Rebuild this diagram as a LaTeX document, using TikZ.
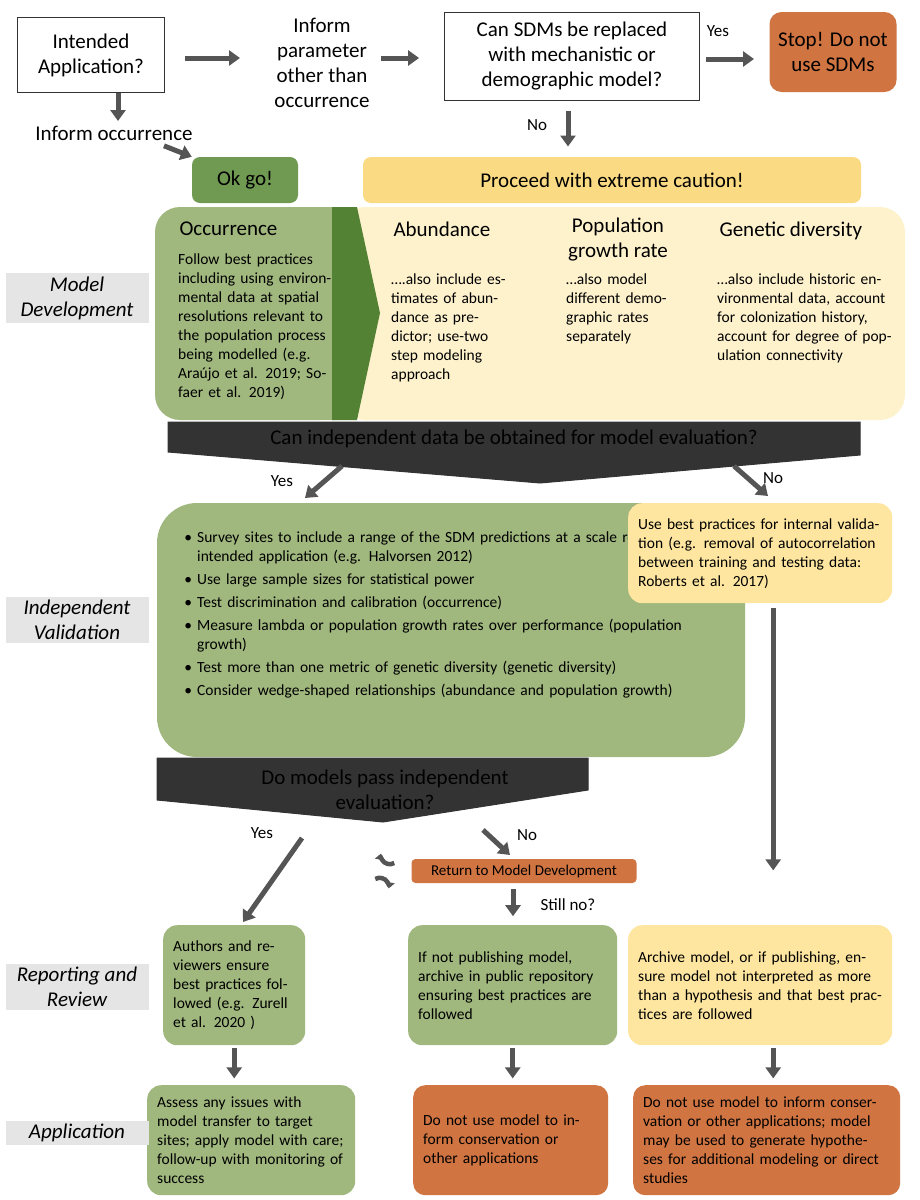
\documentclass[tikz,border=0pt]{standalone}
\usepackage{fontspec}
\setmainfont{Carlito}
\usetikzlibrary{arrows.meta,positioning}
\definecolor{lgreen}{RGB}{160,183,126}
\definecolor{dgreen}{RGB}{84,130,53}
\definecolor{okgreen}{RGB}{112,154,82}
\definecolor{sorange}{RGB}{208,116,66}
\definecolor{pyellow}{RGB}{250,218,131}
\definecolor{byellow}{RGB}{254,242,205}
\definecolor{ryellow}{RGB}{254,230,160}
\definecolor{arrgray}{RGB}{85,85,85}
\tikzset{
  big/.style={font=\fontsize{21}{25}\selectfont},
  body/.style={font=\fontsize{15.5}{19}\selectfont},
  qbox/.style={draw=black!80,fill=white,line width=1pt,big,align=center},
  gbox/.style={fill=lgreen,rounded corners=22pt,body,align=left,inner sep=10pt},
  ybox/.style={fill=ryellow,rounded corners=14pt,body,align=left,inner sep=10pt},
  obox/.style={fill=sorange,rounded corners=12pt,body,align=left,inner sep=10pt},
  side/.style={fill=black!10,font=\itshape\fontsize{21}{25}\selectfont,align=center,minimum width=143pt},
  fat/.style={arrgray,line width=5pt,-{Triangle[width=15pt,length=11pt]}},
}
\begin{document}
\begin{tikzpicture}[x=1pt,y=-1pt]
\useasboundingbox (0,0) rectangle (920,1200);

% top row
\node[qbox,minimum width=147pt,minimum height=75pt] (app) at (91,55) {Intended\\Application?};
\node[big,align=center] (param) at (322,63) {Inform\\parameter\\other than\\occurrence};
\node[qbox,minimum width=255pt,minimum height=88pt] (mech) at (572,56) {Can SDMs be replaced\\with mechanistic or\\demographic model?};
\node[fill=sorange,rounded corners=12pt,big,align=center,minimum width=127pt,minimum height=80pt] (stop) at (833,52) {Stop! Do not\\use SDMs};
\draw[fat] (app.east)++(20,3) -- ++(55,0);
\draw[fat] (param.east)++(8,-5) -- ++(38,0);
\draw[fat] (mech.east)++(6,3) -- ++(48,0);
\node[font=\fontsize{17}{20}\selectfont] at (718,31) {Yes};
\draw[fat] (app.south)++(27,0) -- ++(0,28);
\node[big] (occ) at (114,133) {Inform occurrence};
\draw[fat] (mech.south)++(-4,10) -- ++(0,36);
\node[font=\fontsize{17}{20}\selectfont] at (537,125) {No};

% development row
\node[fill=okgreen,rounded corners=8pt,big,minimum width=106pt,minimum height=46pt] (ok) at (245,180) {Ok go!};
\draw[fat] (occ.south)++(50,2) -- (ok.west|-ok.north);
\node[fill=pyellow,rounded corners=8pt,big,minimum width=498pt,minimum height=46pt] (caution) at (612,180) {Proceed with extreme caution!};
\fill[byellow,rounded corners=25pt] (340,207) rectangle (905,420);
\fill[lgreen,rounded corners=25pt] (155,207) rectangle (345,420);
\fill[lgreen] (300,207) rectangle (340,420);
\fill[dgreen] (332,207) -- (357,207) -- (380,313) -- (357,420) -- (332,420) -- cycle;
\node[big,anchor=north west] (occhead) at (176,218) {Occurrence};
\node[body,anchor=north west,text width=160pt,align=left,inner sep=0pt] (occbody) at (178,254) {Follow best practices including using environmental data at spatial resolutions relevant to the population process being modelled (e.g. Araújo et al. 2019; Sofaer et al. 2019)};
\node[big,anchor=north west] (abh) at (390,218) {Abundance};
\node[body,anchor=north west,text width=115pt,inner sep=0pt] (abb) at (391,274) {….also include estimates of abundance as predictor; use-two step modeling approach};
\node[big,align=center] (poph) at (618,240) {Population\\growth rate};
\node[body,anchor=north west,text width=110pt,inner sep=0pt] (popb) at (566,274) {…also model different demographic rates separately};
\node[big,anchor=north west] (genh) at (716,218) {Genetic diversity};
\node[body,anchor=north west,text width=180pt,inner sep=0pt] (genb) at (717,274) {…also include historic environmental data, account for colonization history, account for degree of population connectivity};
\node[side] (sd) at (77,298) {Model\\Development};

% first evaluation
\coordinate (e1a) at (168,422); \coordinate (e1b) at (860,422);
\coordinate (e1c) at (860,455); \coordinate (e1d) at (540,483);
\coordinate (e1e) at (168,452);
\draw[fill=white,line width=1pt,black!80] (e1a) -- (e1b) -- (e1c) -- (e1d) -- (e1e) -- cycle;
\node[big] (eval1) at (514,439) {Can independent data be obtained for model evaluation?};
\draw[fat] (342,466) -- (305,498);
\node[font=\fontsize{17}{20}\selectfont] at (282,481) {Yes};
\draw[fat] (734,466) -- (768,496);
\node[font=\fontsize{17}{20}\selectfont] at (773,478) {No};

% independent validation
\fill[lgreen,rounded corners=40pt] (157,503) rectangle (745,757);
\node[body,anchor=north west,text width=555pt,inner sep=0pt] (valid) at (172,515) {%
\begin{itemize}\setlength{\itemsep}{0pt}\setlength{\parsep}{0pt}\setlength{\topsep}{0pt}\setlength{\leftmargin}{25pt}
\item Survey sites to include a range of the SDM predictions at a scale relevant to the intended application (e.g. Halvorsen 2012)
\item Use large sample sizes for statistical power
\item Test discrimination and calibration (occurrence)
\item Measure lambda or population growth rates over performance (population growth)
\item Test more than one metric of genetic diversity (genetic diversity)
\item Consider wedge-shaped relationships (abundance and population growth)
\end{itemize}};
\node[ybox,anchor=north west,text width=244pt,minimum height=100pt] (intval) at (628,503) {Use best practices for internal validation (e.g. removal of autocorrelation between training and testing data: Roberts et al. 2017)};
\node[side] (sv) at (77,620) {Independent\\Validation};
\draw[fat] (intval.south)++(13,5) -- ++(0,262);

% second evaluation
\coordinate (e2a) at (157,758); \coordinate (e2b) at (588,758);
\coordinate (e2c) at (588,790); \coordinate (e2d) at (383,822);
\coordinate (e2e) at (157,800);
\draw[fill=white,line width=1pt,black!80] (e2a) -- (e2b) -- (e2c) -- (e2d) -- (e2e) -- cycle;
\node[big,align=center] (eval2) at (385,790) {Do models pass independent\\evaluation?};
\draw[fat] (302,838) -- (243,922);
\node[font=\fontsize{17}{20}\selectfont] at (262,833) {Yes};
\draw[fat] (483,830) -- (510,855);
\node[font=\fontsize{17}{20}\selectfont] at (527,835) {No};
\node[fill=sorange,rounded corners=4pt,font=\fontsize{15}{18}\selectfont,minimum width=225pt,minimum height=24pt] (ret) at (524,871) {Return to Model Development};
\draw[arrgray,line width=4.5pt,-{Triangle[width=10pt,length=6pt]}] (ret.west)++(-17,-8) arc (60:190:9);
\draw[arrgray,line width=4.5pt,-{Triangle[width=10pt,length=6pt]}] (ret.west)++(-36,8) arc (240:370:9);
\draw[fat] (ret.south)++(-11,6) -- ++(0,27);
\node[font=\fontsize{17}{20}\selectfont] at (568,905) {Still no?};

% reporting
\node[gbox,anchor=north west,text width=122pt,minimum height=120pt,rounded corners=14pt] (authors) at (163,925) {Authors and reviewers ensure best practices followed (e.g. Zurell et al. 2020 )};
\node[gbox,anchor=north west,text width=189pt,minimum height=120pt,rounded corners=14pt] (archive) at (408,925) {If not publishing model, archive in public repository ensuring best practices are followed};
\node[ybox,anchor=north west,text width=244pt,minimum height=120pt] (hyp) at (628,925) {Archive model, or if publishing, ensure model not interpreted as more than a hypothesis and that best practices are followed};
\node[side] (sr) at (77,987) {Reporting and\\Review};
\draw[fat] (authors.south)++(0,3) -- ++(0,30);
\draw[fat] (archive.south)++(0,3) -- ++(0,30);
\draw[fat] (hyp.south)++(13,3) -- ++(0,30);

% application
\node[gbox,anchor=north west,text width=188pt,minimum height=110pt,rounded corners=14pt] (assess) at (147,1085) {Assess any issues with model transfer to target sites; apply model with care; follow-up with monitoring of success};
\node[obox,anchor=north west,text width=175pt,minimum height=110pt] (nouse1) at (413,1085) {Do not use model to inform conservation or other applications};
\node[obox,anchor=north west,text width=247pt,minimum height=110pt] (nouse2) at (633,1085) {Do not use model to inform conservation or other applications; model may be used to generate hypotheses for additional modeling or direct studies};
\node[side] (sa) at (77,1133) {Application};
\end{tikzpicture}
\end{document}
